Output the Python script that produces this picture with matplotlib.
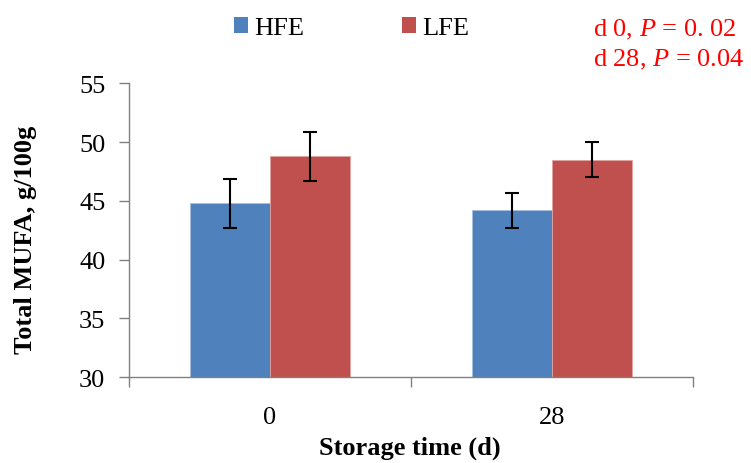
import matplotlib as mpl

mpl.use("Agg")

import matplotlib.pyplot as plt
from matplotlib.patches import Patch

plt.rcParams.update({
    "font.family": ["Liberation Serif", "DejaVu Serif"],
    "mathtext.fontset": "custom",
    "mathtext.it": "Liberation Serif:italic",
    "mathtext.rm": "Liberation Serif",
})

categories = ["0", "28"]
series = ["HFE", "LFE"]
hfe = [44.8, 44.2]
lfe = [48.8, 48.5]
hfe_err = [2.1, 1.5]
lfe_err = [2.1, 1.5]
colors = ["#4f81bd", "#c0504d"]

fig = plt.figure(figsize=(7.51, 4.64), dpi=100)
ax = fig.add_axes([0.1718, 0.1853, 0.7510, 0.6326])

x = range(len(categories))
w = 0.285
ekw = dict(ecolor="black", elinewidth=1.5, capsize=5, capthick=1.5)
ax.bar([i - w / 2 for i in x], hfe, w, color=colors[0], edgecolor="#a7bfdf",
       linewidth=0.6, yerr=hfe_err, error_kw=ekw)
ax.bar([i + w / 2 for i in x], lfe, w, color=colors[1], edgecolor="#e0a3a2",
       linewidth=0.6, yerr=lfe_err, error_kw=ekw)

ax.set_xlim(-0.5, 1.5)
ax.set_ylim(30, 55)
ax.set_yticks([30, 35, 40, 45, 50, 55])
ax.set_xticks(list(x))
ax.set_xticklabels(categories)
ax.set_xticks([-0.5, 0.5, 1.5], minor=True)
ax.tick_params(axis="x", which="major", length=0, labelsize=19, pad=21)
ax.tick_params(axis="x", which="minor", length=7, width=1, color="#808080", direction="out")
ax.tick_params(axis="y", length=7, width=1, color="#808080", labelsize=19, pad=10)

for s in ["top", "right"]:
    ax.spines[s].set_visible(False)
for s in ["left", "bottom"]:
    ax.spines[s].set_color("#808080")
    ax.spines[s].set_linewidth(1)

ax.set_ylabel("Total MUFA, g/100g", fontsize=19, fontweight="bold", va="center")
ax.yaxis.set_label_coords(-0.184, 0.47)
ax.set_xlabel("Storage time (d)", fontsize=19, fontweight="bold", va="center")
ax.xaxis.set_label_coords(0.498, -0.2385)

handles = [Patch(facecolor=c) for c in colors]
fig.legend(handles, series, loc="center", bbox_to_anchor=(0.468, 0.937), ncol=2,
           frameon=False, fontsize=19, handlelength=0.53, handleheight=0.53,
           handletextpad=0.25, columnspacing=3.7, borderpad=0)

fig.text(0.789, 0.935, "d 0, $P$ = 0. 02", color="red", fontsize=19, va="center", ha="left")
fig.text(0.789, 0.871, "d 28, $P$ = 0.04", color="red", fontsize=19, va="center", ha="left")

plt.savefig("out.png", dpi=100)
plt.close()
